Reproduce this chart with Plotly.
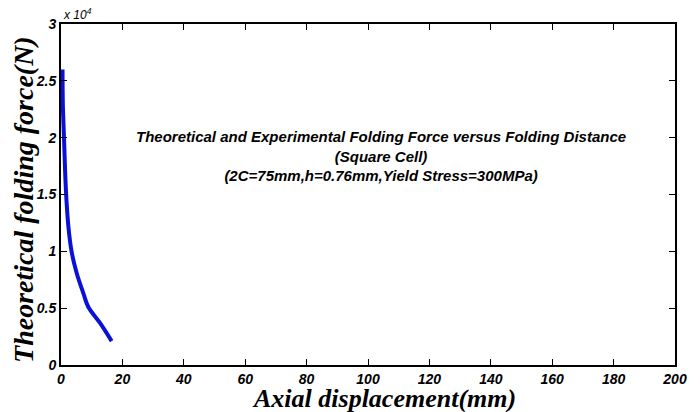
import plotly.graph_objects as go

# Theoretical folding force vs axial displacement (square cell)
displacement_mm = [0.5, 0.6, 1.0, 1.6, 2.4, 3.5, 5.1, 7.3, 8.9, 12.7, 16.5]
force_n = [26000, 23000, 19800, 15400, 12200, 9900, 8100, 6300, 5100, 3700, 2100]

x_ticks = [0, 20, 40, 60, 80, 100, 120, 140, 160, 180, 200]
y_ticks = [0, 5000, 10000, 15000, 20000, 25000, 30000]
y_tick_text = ["0", "0.5", "1", "1.5", "2", "2.5", "3"]

tick_font = dict(family="Liberation Sans, Arial", size=14, color="black")
serif = "Liberation Serif, Times New Roman"

fig = go.Figure()
fig.add_trace(go.Scatter(
    x=displacement_mm, y=force_n, mode="lines",
    line=dict(color="#0a10d8", width=4, shape="spline"),
    showlegend=False,
))

fig.update_layout(
    width=700, height=412,
    margin=dict(l=61, r=25, t=24, b=47),
    paper_bgcolor="white", plot_bgcolor="white",
    xaxis=dict(
        range=[0, 200], tickvals=x_ticks, ticktext=[f"<b><i>{v}</i></b>" for v in x_ticks],
        ticks="inside", ticklen=6, tickwidth=1, tickcolor="black",
        showline=True, linecolor="black", linewidth=2, mirror="ticks",
        showgrid=False, zeroline=False, tickfont=tick_font, automargin=False,
    ),
    yaxis=dict(
        range=[0, 30000], tickvals=y_ticks, ticktext=[f"<b><i>{t}</i></b>" for t in y_tick_text],
        ticks="inside", ticklen=6, tickwidth=1, tickcolor="black",
        showline=True, linecolor="black", linewidth=2, mirror="ticks",
        showgrid=False, zeroline=False, tickfont=tick_font, automargin=False,
    ),
    annotations=[
        # axis titles
        dict(text="<b><i>Axial displacement(mm)</i></b>",
             xref="paper", yref="paper", x=0.526, y=-0.098,
             xanchor="center", yanchor="middle", showarrow=False,
             font=dict(family=serif, size=26, color="black")),
        dict(text="<b><i>Theoretical folding force(N)</i></b>", textangle=-90,
             xref="paper", yref="paper", x=-0.0603, y=0.487,
             xanchor="center", yanchor="middle", showarrow=False,
             font=dict(family=serif, size=28, color="black")),
        dict(text="<i>x 10<sup>4</sup></i>", xref="paper", yref="paper", x=0.0, y=1.0,
             xanchor="left", yanchor="bottom", showarrow=False,
             font=dict(family="Liberation Sans, Arial", size=12, color="black")),
        dict(text="<b><i>Theoretical and Experimental Folding Force versus Folding Distance<br>"
                  "(Square Cell)<br>(2C=75mm,h=0.76mm,Yield Stress=300MPa)</i></b>",
             xref="paper", yref="paper", x=0.521, y=0.614, xanchor="center", yanchor="middle",
             showarrow=False, align="center",
             font=dict(family="Liberation Sans, Arial", size=15, color="black")),
    ],
)

fig.write_html("out.html")
